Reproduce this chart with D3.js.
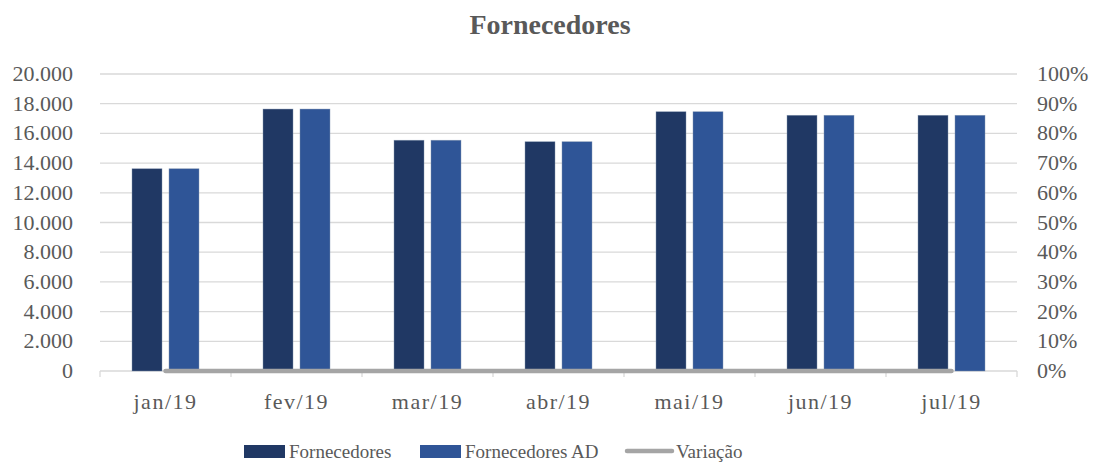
<!DOCTYPE html>
<html><head><meta charset="utf-8">
<script src="https://cdn.jsdelivr.net/npm/d3@7"></script>
<style>body{margin:0;background:#fff}svg{display:block}text{font-family:"Liberation Serif","DejaVu Serif",serif;fill:#595959}</style>
</head><body><svg id="c" width="1095" height="464"></svg>
<script>
const categories = ["jan/19","fev/19","mar/19","abr/19","mai/19","jun/19","jul/19"];
const fornecedores = [13620,17640,15540,15440,17460,17220,17220];
const fornecedoresAD = [13620,17640,15540,15440,17460,17220,17220];
const variacao = [0,0,0,0,0,0,0];
const leftTicks = [0,2000,4000,6000,8000,10000,12000,14000,16000,18000,20000];
const rightTicks = [0,0.1,0.2,0.3,0.4,0.5,0.6,0.7,0.8,0.9,1];
const seriesNames = ["Fornecedores","Fornecedores AD","Variação"];
const colors = ["#203864","#2F5597","#A5A5A5"];

const svg = d3.select("#c");
const L=100,R=1017,T=74,B=371;
const x = d3.scaleBand().domain(categories).range([L,R]);
const y = d3.scaleLinear().domain([0,20000]).range([B,T]);
const y2 = d3.scaleLinear().domain([0,1]).range([B,T]);
const fmt = d => d3.format(",")(d).replace(/,/g,".");

svg.append("text").attr("x",550).attr("y",34).attr("text-anchor","middle")
  .style("font-size","28px").style("font-weight","bold").text("Fornecedores");

// grid
svg.append("g").selectAll("line").data(leftTicks.slice(1)).join("line")
  .attr("x1",L).attr("x2",R).attr("y1",d=>y(d)).attr("y2",d=>y(d))
  .attr("stroke","#d9d9d9").attr("stroke-width",1.3);

// left labels
svg.append("g").selectAll("text").data(leftTicks).join("text")
  .attr("x",73).attr("y",d=>y(d)+7).attr("text-anchor","end")
  .style("font-size","22px").text(fmt);
// right labels
svg.append("g").selectAll("text").data(rightTicks).join("text")
  .attr("x",1037).attr("y",d=>y2(d)+7).attr("text-anchor","start")
  .style("font-size","22px").text(d=>Math.round(d*100)+"%");

// x axis
svg.append("line").attr("x1",L).attr("x2",R).attr("y1",B).attr("y2",B).attr("stroke","#d9d9d9").attr("stroke-width",1.3);
const bounds = categories.map(c=>x(c)).concat([R]);
svg.append("g").selectAll("line").data(bounds).join("line")
  .attr("x1",d=>d).attr("x2",d=>d).attr("y1",B).attr("y2",B+6).attr("stroke","#d9d9d9").attr("stroke-width",1.3);
svg.append("g").selectAll("text").data(categories).join("text")
  .attr("x",d=>x(d)+x.bandwidth()/2).attr("y",409).attr("text-anchor","middle")
  .style("font-size","22px").style("letter-spacing","1.5px").text(d=>d);

const inner = d3.scaleBand().domain([0,1]).range([0,x.bandwidth()]).paddingInner(0.189).paddingOuter(0.865);
[fornecedores,fornecedoresAD].forEach((s,i)=>{
  svg.append("g").selectAll("rect").data(s).join("rect")
    .attr("x",(d,j)=>x(categories[j])+inner(i)).attr("width",inner.bandwidth())
    .attr("y",d=>y(d)).attr("height",d=>B-y(d)).attr("fill",colors[i])
    .attr("stroke","#8497b0").attr("stroke-width",0.6).attr("stroke-opacity",0.7);
});

const line = d3.line().x((d,j)=>x(categories[j])+x.bandwidth()/2).y(d=>y2(d));
svg.append("path").datum(variacao).attr("d",line).attr("fill","none")
  .attr("stroke",colors[2]).attr("stroke-width",4.5).attr("stroke-linecap","round");

// legend
const lg = svg.append("g");
const items = [{x:244,w:41,type:"rect"},{x:420,w:41,type:"rect"},{x:627,w:45,type:"line"}];
items.forEach((it,i)=>{
  if(it.type==="rect") lg.append("rect").attr("x",it.x).attr("y",445).attr("width",it.w).attr("height",13).attr("fill",colors[i]);
  else lg.append("line").attr("x1",it.x).attr("x2",it.x+it.w).attr("y1",451).attr("y2",451).attr("stroke",colors[i]).attr("stroke-width",4.5).attr("stroke-linecap","round");
  lg.append("text").attr("x",it.x+it.w+4).attr("y",458).style("font-size","19px").text(seriesNames[i]);
});
</script></body></html>
